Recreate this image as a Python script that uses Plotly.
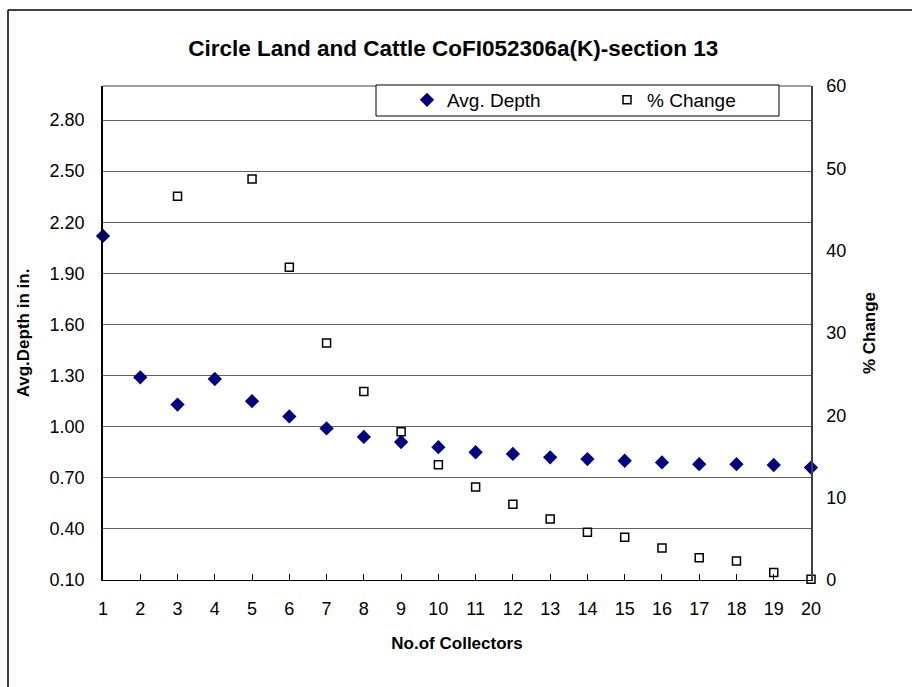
import plotly.graph_objects as go

collectors = list(range(1, 21))
avg_depth = [2.12, 1.29, 1.13, 1.28, 1.15, 1.06, 0.99, 0.94, 0.91, 0.88,
             0.85, 0.84, 0.82, 0.81, 0.80, 0.79, 0.78, 0.78, 0.775, 0.76]
pct_change = [None, None, 46.6, None, 48.7, 38.0, 28.8, 22.9, 18.0, 14.0,
              11.3, 9.2, 7.4, 5.8, 5.2, 3.9, 2.7, 2.3, 0.9, 0.1]
left_ticks = [0.10, 0.40, 0.70, 1.00, 1.30, 1.60, 1.90, 2.20, 2.50, 2.80]
right_ticks = [0, 10, 20, 30, 40, 50, 60]

FONT = "Liberation Sans, Arial, sans-serif"
L, R, T, B = 103, 811, 86, 580
PW, PH = R - L, B - T

fig = go.Figure()
fig.add_trace(go.Scatter(
    x=collectors, y=avg_depth, mode="markers", name="Avg. Depth",
    marker=dict(symbol="diamond", size=11, color="#000080"),
    cliponaxis=False, yaxis="y"))
fig.add_trace(go.Scatter(
    x=collectors, y=pct_change, mode="markers", name="% Change",
    marker=dict(symbol="square", size=8, color="white",
                line=dict(color="black", width=1.5)),
    cliponaxis=False, yaxis="y2"))

fig.update_layout(
    width=912, height=687,
    margin=dict(l=L, r=912 - R, t=T, b=687 - B, autoexpand=False),
    paper_bgcolor="white", plot_bgcolor="white",
    font=dict(family=FONT, size=18, color="black"),
    title=dict(text="<b>Circle Land and Cattle CoFI052306a(K)-section 13</b>",
               x=0.497, xanchor="center", y=1 - 48 / 687, yanchor="middle",
               font=dict(size=22.5)),
    xaxis=dict(range=[1, 20], tickvals=collectors, ticks="inside", ticklen=6,
               tickcolor="black", showline=True, linecolor="black", linewidth=1,
               showgrid=False, zeroline=False, ticklabelstandoff=12,
               automargin=False,
               title=dict(text="<b>No.of Collectors</b>", standoff=19,
                          font=dict(size=17))),
    yaxis=dict(range=[0.1, 3.0], tickvals=left_ticks, tickformat=".2f",
               showgrid=True, gridcolor="#606060", gridwidth=1,
               showline=True, linecolor="black", linewidth=1.5, ticks="",
               zeroline=False, ticklabelstandoff=13, automargin=False,
               title=dict(text="<b>Avg.Depth in in.</b>", standoff=16,
                          font=dict(size=17))),
    yaxis2=dict(range=[0, 60], tickvals=right_ticks, overlaying="y", side="right",
                showgrid=False, showline=True, linecolor="#404040", linewidth=1.5,
                ticks="", zeroline=False, ticklabelstandoff=10, automargin=False,
                title=dict(text="<b>% Change</b>", standoff=18,
                           font=dict(size=17))),
    legend=dict(orientation="h", xref="paper", yref="paper",
                x=(407 - L) / PW, xanchor="left", y=1.0 + 5 / PH, yanchor="top",
                bgcolor="rgba(0,0,0,0)", borderwidth=0,
                entrywidth=155, entrywidthmode="pixels", itemwidth=30,
                font=dict(size=19)),
    showlegend=True,
)

# plot-area top edge, legend box and chart border
fig.add_shape(type="line", xref="paper", yref="paper", x0=0, x1=1, y0=1, y1=1,
              line=dict(color="#808080", width=1.5), layer="below")
fig.add_shape(type="rect", xref="paper", yref="paper",
              x0=(376 - L) / PW, x1=(779 - L) / PW,
              y0=(B - 116) / PH, y1=(B - 85) / PH,
              fillcolor="white", line=dict(color="black", width=1), layer="above")
fig.add_shape(type="line", xref="paper", yref="paper",
              x0=(8 - L) / PW, x1=(8 - L) / PW,
              y0=(B - 687) / PH, y1=(B - 10) / PH,
              line=dict(color="black", width=1.5))
fig.add_shape(type="line", xref="paper", yref="paper",
              x0=(8 - L) / PW, x1=(912 - L) / PW,
              y0=(B - 10) / PH, y1=(B - 10) / PH,
              line=dict(color="black", width=1.5))

fig.write_html("out.html", config={"displayModeBar": False},
               post_script="document.body.style.margin='0';document.body.style.padding='0';")
